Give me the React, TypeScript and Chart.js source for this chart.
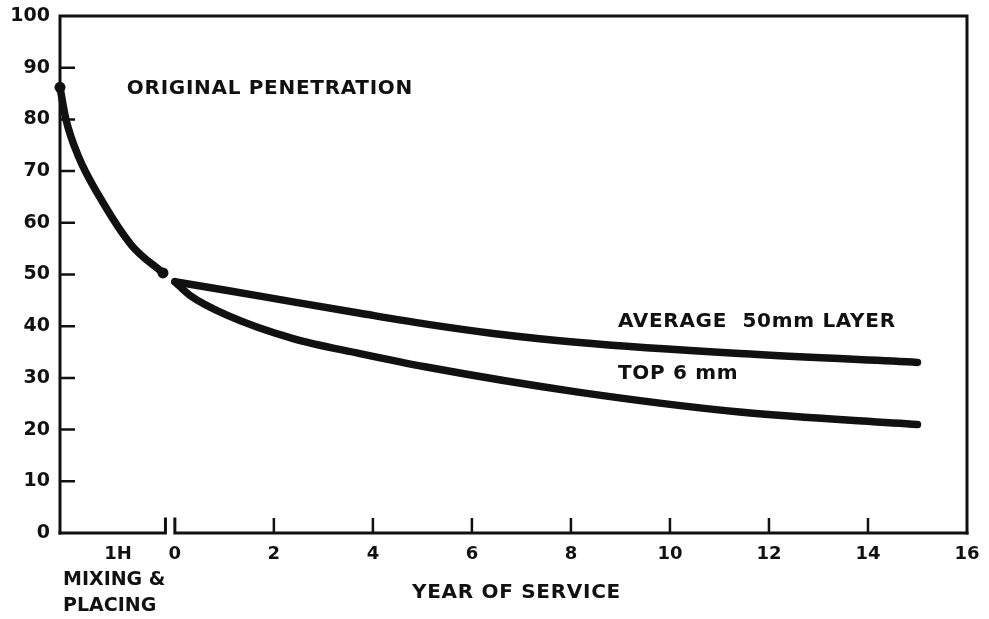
import React, { useEffect, useRef } from "react";
import { Chart, registerables } from "chart.js";

Chart.register(...registerables);

// Mixing & placing phase (x in the same axis units, left of year 0)
const mixingX = [-2.32, -2.2, -1.95, -1.52, -0.87, -0.24];
const mixingPen = [86.2, 80.0, 72.9, 65.0, 55.6, 50.3];

// Average 50 mm layer
const avgYears = [0, 1.0, 2.39, 3.74, 5.08, 6.43, 8.11, 11.41, 15];
const avgPen = [48.6, 47.0, 44.7, 42.5, 40.4, 38.6, 36.9, 34.7, 33.0];

// Top 6 mm
const topYears = [0, 0.3, 1.04, 2.39, 3.74, 5.08, 8.11, 11.41, 15];
const topPen = [48.6, 46.0, 42.2, 37.6, 34.7, 32.1, 27.3, 23.4, 21.0];

const xTickValues = [-1.15, 0, 2, 4, 6, 8, 10, 12, 14, 16];
const xTickLabels = ["1H", "0", "2", "4", "6", "8", "10", "12", "14", "16"];
const xInnerTicks = [2, 4, 6, 8, 10, 12, 14];
const yInnerTicks = [10, 20, 30, 40, 50, 60, 70, 80, 90];

const X_MIN = -2.32;
const X_MAX = 16;
const MIX_END = -0.19;

const INK = "#111111";
const FONT = '"DejaVu Sans", "Liberation Sans", sans-serif';

const toPts = (xs: number[], ys: number[]) => xs.map((x, i) => ({ x, y: ys[i] }));

const framePlugin = {
  id: "frame",
  beforeDatasetsDraw(chart: any) {
    const { ctx, chartArea: ca, scales } = chart;
    const x = scales.x;
    const y = scales.y;
    ctx.save();
    ctx.strokeStyle = INK;
    ctx.lineWidth = 3;
    ctx.lineCap = "square";
    ctx.beginPath();
    ctx.moveTo(ca.left, ca.bottom);
    ctx.lineTo(ca.left, ca.top);
    ctx.lineTo(ca.right, ca.top);
    ctx.lineTo(ca.right, ca.bottom);
    ctx.stroke();
    const b1 = x.getPixelForValue(MIX_END);
    const b2 = x.getPixelForValue(0);
    ctx.beginPath();
    ctx.moveTo(ca.left, ca.bottom);
    ctx.lineTo(b1, ca.bottom);
    ctx.lineTo(b1, ca.bottom - 14);
    ctx.moveTo(b2, ca.bottom - 14);
    ctx.lineTo(b2, ca.bottom);
    ctx.lineTo(ca.right, ca.bottom);
    ctx.stroke();
    ctx.lineWidth = 2.5;
    ctx.lineCap = "butt";
    ctx.beginPath();
    for (const v of xInnerTicks) {
      const px = x.getPixelForValue(v);
      ctx.moveTo(px, ca.bottom);
      ctx.lineTo(px, ca.bottom - 15);
    }
    for (const v of yInnerTicks) {
      const py = y.getPixelForValue(v);
      ctx.moveTo(ca.left, py);
      ctx.lineTo(ca.left + 15, py);
    }
    ctx.stroke();
    ctx.restore();
  },
  afterDraw(chart: any) {
    const { ctx, chartArea: ca, scales } = chart;
    const x = scales.x;
    const y = scales.y;
    ctx.save();
    ctx.fillStyle = INK;
    ctx.font = `bold 20px ${FONT}`;
    (ctx as any).letterSpacing = "0.7px";
    ctx.textBaseline = "middle";
    ctx.textAlign = "left";
    ctx.fillText("ORIGINAL PENETRATION", x.getPixelForValue(-0.97), y.getPixelForValue(86));
    ctx.fillText("AVERAGE  50mm LAYER", x.getPixelForValue(8.95), y.getPixelForValue(40.8));
    ctx.fillText("TOP 6 mm", x.getPixelForValue(8.95), y.getPixelForValue(30.7));
    ctx.textAlign = "center";
    ctx.fillText("YEAR OF SERVICE", x.getPixelForValue(6.9), ca.bottom + 60);
    (ctx as any).letterSpacing = "0px";
    ctx.font = `bold 19px ${FONT}`;
    ctx.textAlign = "left";
    ctx.fillText("MIXING &", ca.left + 3, ca.bottom + 47);
    ctx.fillText("PLACING", ca.left + 3, ca.bottom + 73);
    ctx.restore();
  },
};

export default function App() {
  const ref = useRef<HTMLCanvasElement | null>(null);

  useEffect(() => {
    if (!ref.current) return;
    const lineStyle = {
      borderColor: INK,
      backgroundColor: INK,
      borderWidth: 7.5,
      borderCapStyle: "round" as const,
      borderJoinStyle: "round" as const,
      cubicInterpolationMode: "monotone" as const,
      fill: false,
      clip: false as any,
      pointBorderWidth: 0,
      pointHoverRadius: 0,
    };
    const chart = new Chart(ref.current, {
      type: "line",
      data: {
        datasets: [
          {
            label: "Mixing & placing",
            data: toPts(mixingX, mixingPen),
            ...lineStyle,
            pointRadius: mixingX.map((_, i) => (i === 0 || i === mixingX.length - 1 ? 5.5 : 0)),
          },
          {
            label: "Average 50mm layer",
            data: toPts(avgYears, avgPen),
            ...lineStyle,
            pointRadius: 0,
          },
          {
            label: "Top 6 mm",
            data: toPts(topYears, topPen),
            ...lineStyle,
            pointRadius: 0,
          },
        ],
      },
      options: {
        animation: false,
        responsive: false,
        layout: { padding: { top: 16, right: 22, left: 0, bottom: 0 } },
        plugins: { legend: { display: false }, tooltip: { enabled: false } },
        scales: {
          x: {
            type: "linear",
            min: X_MIN,
            max: X_MAX,
            grid: { display: false, drawTicks: false },
            border: { display: false },
            afterFit: (s: any) => {
              s.height = 86;
              s.paddingLeft = 0;
              s.paddingRight = 0;
            },
            afterBuildTicks: (s: any) => {
              s.ticks = xTickValues.map((v) => ({ value: v }));
            },
            ticks: {
              autoSkip: false,
              maxRotation: 0,
              padding: 11,
              color: INK,
              font: { family: FONT, size: 18, weight: "bold" },
              callback: (v: any) => {
                const i = xTickValues.indexOf(Number(v));
                return i >= 0 ? xTickLabels[i] : "";
              },
            },
          },
          y: {
            type: "linear",
            min: 0,
            max: 100,
            grid: { display: false, drawTicks: false },
            border: { display: false },
            afterFit: (s: any) => {
              s.width = 60;
              s.paddingTop = 0;
              s.paddingBottom = 0;
            },
            ticks: {
              stepSize: 10,
              padding: 10,
              color: INK,
              font: { family: FONT, size: 19, weight: "bold" },
            },
          },
        },
      },
      plugins: [framePlugin],
    });
    return () => chart.destroy();
  }, []);

  return (
    <div style={{ position: "fixed", left: 0, top: 0, width: 989, height: 619, background: "#fff" }}>
      <canvas ref={ref} width={989} height={619} style={{ display: "block" }} />
    </div>
  );
}
